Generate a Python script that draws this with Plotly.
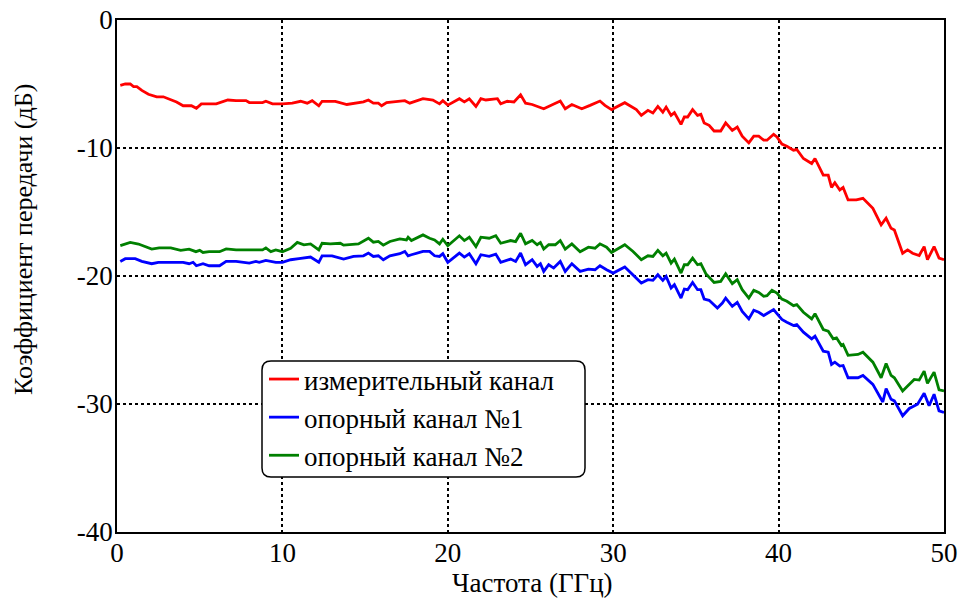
import plotly.graph_objects as go

# ---------------- data ----------------
freq_meas = [0.2,0.5,0.8,1.0,1.2,1.5,1.9,2.4,2.8,3.2,3.6,4.0,4.5,4.8,5.1,6.0,6.7,7.2,7.8,8.0,
             8.8,9.0,9.4,10.0,10.6,11.1,11.5,11.8,12.2,12.4,13.2,13.9,14.5,14.9,15.2,15.5,15.8,16.0,16.3,16.7,
             17.4,17.7,18.5,19.1,19.5,19.7,20.0,20.7,21.0,21.3,21.7,22.0,22.3,23.0,23.2,23.6,24.0,24.4,24.7,25.1,
             25.8,26.8,27.1,27.5,28.1,28.6,29.2,29.5,29.9,30.7,31.4,31.7,32.1,32.4,32.7,33.0,33.2,33.5,33.7,34.1,
             34.3,34.5,34.8,35.1,35.3,35.5,35.8,36.1,36.5,36.8,37.2,37.5,37.8,38.2,38.5,38.8,39.1,39.3,39.7,39.9,
             40.2,40.5,40.9,41.1,41.5,42.0,42.2,42.7,43.0,43.2,43.4,43.7,43.9,44.2,44.7,45.1,45.7,46.2,46.5,46.8,
             47.0,47.5,47.8,48.1,48.5,48.8,49.0,49.4,49.7,50.0]
gain_meas = [-5.1,-5.0,-5.0,-5.2,-5.2,-5.5,-5.8,-6.0,-6.0,-6.2,-6.4,-6.7,-6.7,-6.9,-6.55,-6.55,-6.25,-6.3,-6.3,-6.45,
             -6.45,-6.35,-6.55,-6.55,-6.5,-6.35,-6.5,-6.3,-6.7,-6.35,-6.35,-6.6,-6.5,-6.4,-6.25,-6.5,-6.5,-6.7,-6.45,-6.4,
             -6.3,-6.5,-6.15,-6.25,-6.55,-6.3,-6.65,-6.15,-6.4,-6.15,-6.75,-6.15,-6.25,-6.15,-6.55,-6.35,-6.4,-5.85,-6.5,-6.6,
             -6.93,-6.33,-6.93,-6.6,-6.93,-6.67,-6.33,-6.67,-7.0,-6.46,-7.0,-7.45,-7.06,-7.27,-6.75,-7.2,-6.8,-7.45,-7.24,-8.15,
             -7.58,-7.58,-7.0,-7.45,-7.37,-8.04,-8.23,-8.67,-8.67,-8.04,-8.62,-8.36,-9.08,-9.6,-9.08,-9.08,-9.39,-9.39,-8.93,-9.13,
             -9.7,-9.86,-10.17,-10.12,-10.82,-11.21,-10.82,-12.12,-12.12,-13.08,-12.71,-13.28,-13.08,-14.06,-14.06,-13.93,-14.71,-16.01,-15.49,-16.27,
             -16.4,-18.22,-17.96,-18.22,-18.4,-17.7,-18.73,-17.7,-18.6,-18.73]

freq_ref1 = [0.2,0.5,1.1,1.5,2.1,2.5,4.0,4.36,4.6,4.8,5.2,5.57,6.2,6.6,7.2,8.0,8.4,8.6,9.0,9.6,
             10.0,10.5,11.0,11.7,12.2,12.4,13.0,13.7,14.3,14.9,15.2,15.5,15.8,16.1,16.5,17.1,17.4,17.6,17.8,18.5,
             18.9,19.2,19.5,19.7,20.0,20.7,21.0,21.3,21.7,22.0,22.5,22.9,23.2,23.8,24.1,24.4,24.7,25.1,25.4,25.6,
             25.8,26.1,26.4,26.8,27.1,27.5,28.0,28.5,28.9,29.2,29.6,30.0,30.7,31.2,31.7,32.1,32.4,32.7,33.0,33.2,
             33.5,33.7,34.1,34.3,34.5,34.8,35.1,35.3,35.5,35.8,36.3,36.6,36.8,37.2,37.5,37.8,38.2,38.5,38.8,39.1,
             39.4,39.7,39.9,40.2,40.5,40.9,41.1,41.5,42.0,42.2,42.7,43.0,43.2,43.4,43.7,43.9,44.2,44.8,45.1,45.7,
             46.3,46.5,46.8,47.0,47.5,47.9,48.4,48.8,49.1,49.4,49.7,50.0]
gain_ref1 = [-18.86,-18.65,-18.65,-18.86,-19.04,-18.93,-18.93,-19.04,-18.93,-19.2,-19.04,-19.2,-19.2,-18.86,-18.86,-18.99,-18.86,-18.93,-18.78,-18.93,
             -18.93,-18.73,-18.65,-18.52,-18.93,-18.42,-18.42,-18.68,-18.47,-18.42,-18.21,-18.47,-18.42,-18.73,-18.42,-18.26,-18.08,-18.42,-18.34,-18.08,
             -18.08,-18.42,-18.47,-18.26,-18.93,-18.21,-18.52,-18.26,-19.04,-18.34,-18.47,-18.29,-18.93,-18.68,-18.86,-18.21,-19.12,-18.73,-19.25,-19.04,
             -19.64,-19.12,-19.38,-18.86,-19.64,-19.04,-19.64,-19.46,-19.51,-19.2,-19.51,-19.77,-19.3,-19.9,-20.55,-20.29,-20.34,-19.9,-20.34,-20.03,
             -20.94,-20.68,-21.72,-21.02,-21.07,-20.5,-21.07,-21.07,-21.8,-21.9,-22.5,-22.11,-21.72,-22.37,-22.06,-22.76,-23.35,-22.68,-22.83,-23.09,
             -22.89,-22.63,-22.94,-23.4,-23.61,-23.87,-23.79,-24.39,-24.91,-24.7,-25.87,-25.95,-26.91,-26.73,-27.04,-26.99,-27.95,-27.95,-27.77,-28.47,
             -29.84,-28.8,-29.63,-29.76,-30.92,-30.35,-30.01,-29.16,-30.14,-29.24,-30.53,-30.66]

freq_ref2 = [0.2,0.8,1.3,1.7,2.1,2.55,3.25,3.85,4.36,4.77,5.0,5.2,5.57,6.2,6.6,7.2,8.8,9.0,9.3,9.6,
             10.0,10.5,10.9,11.3,11.7,12.2,12.4,12.9,13.5,13.7,14.6,15.2,15.5,15.8,16.1,16.5,17.1,17.5,17.6,17.8,
             18.1,18.5,18.9,19.2,19.5,19.7,20.0,20.7,21.0,21.3,21.7,22.0,22.5,22.9,23.2,23.8,24.1,24.4,24.7,25.1,
             25.4,25.6,25.8,26.1,26.5,26.8,27.1,27.5,28.0,28.5,28.9,29.2,29.6,29.9,30.7,31.2,31.7,32.1,32.4,32.7,
             33.0,33.2,33.5,33.7,34.1,34.3,34.5,34.8,35.1,35.3,35.6,36.1,36.5,36.8,37.2,37.5,37.8,38.2,38.5,38.8,
             39.1,39.3,39.6,39.9,40.2,40.5,40.9,41.1,41.5,42.0,42.2,42.7,43.0,43.3,43.5,43.8,43.9,44.2,44.8,45.1,
             45.7,46.2,46.5,46.8,47.0,47.5,47.8,48.2,48.5,48.8,49.0,49.4,49.7,50.0]
gain_ref2 = [-17.62,-17.38,-17.5,-17.7,-17.9,-17.8,-17.8,-18.0,-17.9,-18.1,-18.0,-18.16,-18.1,-18.1,-17.88,-17.96,-17.96,-17.8,-18.1,-17.96,
             -18.1,-17.83,-17.38,-17.56,-17.49,-17.96,-17.44,-17.49,-17.44,-17.59,-17.49,-17.05,-17.36,-17.3,-17.59,-17.3,-17.1,-17.18,-16.97,-17.23,
             -17.05,-16.79,-17.05,-17.18,-17.49,-17.13,-17.64,-16.86,-17.23,-16.97,-17.7,-16.97,-17.05,-16.86,-17.44,-17.23,-17.31,-16.66,-17.49,-17.23,
             -17.56,-17.38,-17.9,-17.56,-17.56,-17.23,-17.9,-17.49,-18.1,-17.75,-17.83,-17.49,-17.75,-18.16,-17.56,-18.08,-18.73,-18.42,-18.47,-18.0,
             -18.42,-18.21,-19.0,-18.68,-19.77,-19.12,-19.12,-18.6,-19.12,-19.04,-19.82,-20.5,-20.42,-19.82,-20.6,-20.29,-21.07,-21.72,-21.12,-21.28,
             -21.59,-21.54,-21.12,-21.33,-21.8,-21.98,-22.32,-22.24,-22.83,-23.35,-22.94,-24.18,-24.31,-24.91,-24.83,-25.43,-25.35,-26.2,-26.13,-25.95,
             -26.73,-27.95,-26.83,-27.77,-27.95,-28.98,-28.6,-28.08,-28.13,-27.43,-28.39,-27.51,-28.9,-28.98]

series_names = ["измерительный канал", "опорный канал №1", "опорный канал №2"]
x_tick_vals = [0, 10, 20, 30, 40, 50]
x_tick_text = ["0", "10", "20", "30", "40", "50"]
y_tick_vals = [0, -10, -20, -30, -40]
y_tick_text = ["0", "-10", "-20", "-30", "-40"]
x_title = "Частота (ГГц)"
y_title = "Коэффициент передачи (дБ)"

# ---------------- figure ----------------
FONT = "Liberation Serif"
FS = 27
W, H = 960, 598
ML, MR, MT, MB = 117, 16, 20, 66
PW, PH = W - ML - MR, H - MT - MB

# page pixel -> paper coordinates
px = lambda v: (v - ML) / PW
py = lambda v: (H - MB - v) / PH

fig = go.Figure()
colors = ["#ff0000", "#0000ff", "#008000"]
for i, (fx, gy) in enumerate([(freq_meas, gain_meas), (freq_ref1, gain_ref1), (freq_ref2, gain_ref2)]):
    fig.add_trace(go.Scatter(x=fx, y=gy, mode="lines", name=series_names[i],
                             legendgroup=str(i),
                             line=dict(color=colors[i], width=2.8)))

# rounded legend box
bx0, bx1, by0, by1, rad = 262, 585, 361, 477, 9
x0, x1, y0, y1 = px(bx0), px(bx1), py(by1), py(by0)
rx, ry = rad / PW, rad / PH
path = (f"M {x0+rx},{y1} L {x1-rx},{y1} Q {x1},{y1} {x1},{y1-ry} "
        f"L {x1},{y0+ry} Q {x1},{y0} {x1-rx},{y0} L {x0+rx},{y0} "
        f"Q {x0},{y0} {x0},{y0+ry} L {x0},{y1-ry} Q {x0},{y1} {x0+rx},{y1} Z")
fig.add_shape(type="path", path=path, xref="paper", yref="paper",
              fillcolor="white", line=dict(color="black", width=1.5), layer="above")

axis_common = dict(showline=True, mirror=True, linecolor="black", linewidth=1.5,
                   showgrid=True, gridcolor="black", gridwidth=2, griddash="dot",
                   zeroline=False, ticks="", automargin=False, ticklabeloverflow="allow",
                   tickfont=dict(family=FONT, size=FS, color="black"))

fig.update_xaxes(range=[0, 50], tickmode="array", tickvals=x_tick_vals, ticktext=x_tick_text,
                 ticklabelstandoff=-4, **axis_common)
fig.update_yaxes(range=[-40, 0], tickmode="array", tickvals=y_tick_vals, ticktext=y_tick_text,
                 ticklabelstandoff=-3, **axis_common)

fig.add_annotation(text=x_title, xref="paper", yref="paper", x=px(532), y=py(583),
                   xanchor="center", yanchor="middle", showarrow=False,
                   font=dict(family=FONT, size=FS, color="black"))
fig.add_annotation(text=y_title, xref="paper", yref="paper", x=px(23), y=py(240),
                   xanchor="center", yanchor="middle", showarrow=False, textangle=-90,
                   font=dict(family=FONT, size=26, color="black"))

fig.update_layout(
    width=W, height=H,
    margin=dict(l=ML, r=MR, t=MT, b=MB, autoexpand=False),
    paper_bgcolor="white", plot_bgcolor="white",
    font=dict(family=FONT, size=FS, color="black"),
    legend=dict(x=px(bx0 + 2), y=py(by0 - 6), xanchor="left", yanchor="top",
                bgcolor="rgba(0,0,0,0)", borderwidth=0, tracegroupgap=0,
                font=dict(family=FONT, size=FS, color="black")),
)

# remove the default 8px page margin so the 960x598 figure fills the window exactly
fig.write_html("out.html",
               config={"displayModeBar": False},
               post_script="document.body.style.margin='0px';document.body.style.overflow='hidden';")
